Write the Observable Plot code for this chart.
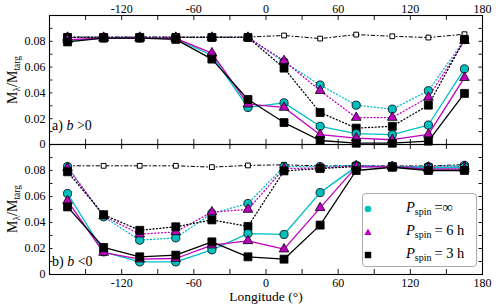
<!DOCTYPE html>
<html><head><meta charset="utf-8">
<script src="https://cdn.jsdelivr.net/npm/d3@7"></script>
<script src="https://cdn.jsdelivr.net/npm/@observablehq/plot@0.6"></script>
<style>
body{margin:0;background:#fff;overflow:hidden}
#wrap{position:relative;width:498px;height:308px;font-family:"Liberation Serif","DejaVu Serif",serif;color:#000}
#wrap svg{position:absolute;left:0;overflow:visible;background:none}
#wrap svg text{font-family:"Liberation Serif","DejaVu Serif",serif}
.ov{position:absolute;white-space:nowrap;line-height:1}
.ylab{font-size:14px;transform:translate(-50%,-50%) rotate(-90deg)}
.ylab sub{font-size:9.5px;vertical-align:-3px}
.plab{font-size:14px;transform:translateY(-50%)}
#legend{position:absolute;left:362px;top:193px;width:115px;height:74px;border:1px solid #aaa;border-radius:4px;background:#fff;box-sizing:border-box}
.lrow{position:absolute;left:0;width:100%;height:20px}
.lrow svg{position:absolute;left:13px;top:6px}
.ltxt{position:absolute;left:43px;top:1px;font-size:14.5px;white-space:nowrap}
.ltxt sub{font-size:10px;vertical-align:-3px}
</style></head><body><div id="wrap"></div>
<script>
// ---- data ----
const longitudes = [-165, -135, -105, -75, -45, -15, 15, 45, 75, 105, 135, 165];
const xTicks = [-180, -150, -120, -90, -60, -30, 0, 30, 60, 90, 120, 150, 180];
const xTickLabels = [-120, -60, 0, 60, 120, 180];
const yTicks = [0, 0.01, 0.02, 0.03, 0.04, 0.05, 0.06, 0.07, 0.08, 0.09, 0.1];
const yTickLabels = [0, 0.02, 0.04, 0.06, 0.08];

// panel a) b>0
const topRef     = [0.0833, 0.0833, 0.0833, 0.0833, 0.0833, 0.0833, 0.0845, 0.0821, 0.0852, 0.0839, 0.0829, 0.0855];
const topDotInf  = [0.0830, 0.0830, 0.0830, 0.0830, 0.0830, 0.0830, 0.0640, 0.0461, 0.0305, 0.0274, 0.0417, 0.0813];
const topDot6h   = [0.0830, 0.0830, 0.0830, 0.0830, 0.0830, 0.0830, 0.0649, 0.0417, 0.0209, 0.0209, 0.0365, 0.0805];
const topDot3h   = [0.0830, 0.0830, 0.0830, 0.0830, 0.0830, 0.0830, 0.0592, 0.0248, 0.0127, 0.0141, 0.0305, 0.0815];
const topSolInf  = [0.0805, 0.0825, 0.0825, 0.0820, 0.0690, 0.0287, 0.0323, 0.0141, 0.0084, 0.0076, 0.0151, 0.0586];
const topSol6h   = [0.0812, 0.0825, 0.0825, 0.0822, 0.0709, 0.0313, 0.0287, 0.0076, 0.0050, 0.0037, 0.0078, 0.0518];
const topSol3h   = [0.0795, 0.0825, 0.0825, 0.0815, 0.0662, 0.0349, 0.0170, 0.0031, 0.0010, 0.0010, 0.0026, 0.0396];

// panel b) b<0
const botRef     = [0.0836, 0.0836, 0.0836, 0.0836, 0.0826, 0.0839, 0.0844, 0.0835, 0.0838, 0.0835, 0.0835, 0.0845];
const botDotInf  = [0.0830, 0.0444, 0.0264, 0.0282, 0.0470, 0.0546, 0.0830, 0.0830, 0.0840, 0.0830, 0.0830, 0.0840];
const botDot6h   = [0.0820, 0.0450, 0.0310, 0.0328, 0.0480, 0.0500, 0.0815, 0.0820, 0.0835, 0.0830, 0.0825, 0.0830];
const botDot3h   = [0.0790, 0.0460, 0.0340, 0.0367, 0.0420, 0.0370, 0.0797, 0.0815, 0.0830, 0.0830, 0.0820, 0.0820];
const botSolInf  = [0.0623, 0.0174, 0.0097, 0.0097, 0.0190, 0.0315, 0.0308, 0.0630, 0.0830, 0.0830, 0.0820, 0.0825];
const botSol6h   = [0.0567, 0.0169, 0.0118, 0.0123, 0.0226, 0.0259, 0.0195, 0.0513, 0.0828, 0.0830, 0.0810, 0.0810];
const botSol3h   = [0.0520, 0.0208, 0.0136, 0.0149, 0.0251, 0.0136, 0.0118, 0.0380, 0.0800, 0.0825, 0.0800, 0.0800];

const seriesNames = ["P_spin=∞", "P_spin=6 h", "P_spin=3 h"];
const colors = ["#00BFBF", "#BF00BF", "#000000"];
const symbols = ["circle", "triangle", "square"];
const radii = [4.1, 3.6, 4.5];

const rows = vals => longitudes.map((lon, i) => ({lon, v: vals[i]}));

function panel({ref, dots, sols, height, marginTop, marginBottom, axisTop, axisBottom}) {
  const H = height - marginTop - marginBottom;
  const W = 498 - 49 - 16;
  const marks = [
    Plot.tickX(xTicks, {x: d => d, stroke: "#000", strokeWidth: 0.9, insetBottom: H - 5}),
    Plot.tickX(xTicks, {x: d => d, stroke: "#000", strokeWidth: 0.9, insetTop: H - 5}),
    Plot.tickY(yTicks, {y: d => d, stroke: "#000", strokeWidth: 0.9, insetRight: W - 3.5}),
    Plot.tickY(yTicks, {y: d => d, stroke: "#000", strokeWidth: 0.9, insetLeft: W - 3.5}),
    Plot.axisY({ticks: yTickLabels, tickSize: 0, tickPadding: 4, tickFormat: d => d === 0 ? "0" : d.toFixed(2), label: null}),
    // reference: dash-dot with open squares
    Plot.line(rows(ref), {x: "lon", y: "v", stroke: "#000", strokeWidth: 1, strokeDasharray: "3.5,2.5,1,2.5"}),
    Plot.dot(rows(ref), {x: "lon", y: "v", symbol: "square", r: 2.7, fill: "#fff", stroke: "#000", strokeWidth: 1})
  ];
  dots.forEach((vals, k) => {
    marks.push(Plot.line(rows(vals), {x: "lon", y: "v", stroke: colors[k], strokeWidth: 1.3, strokeDasharray: "1,2.4"}));
    marks.push(Plot.dot(rows(vals), {x: "lon", y: "v", symbol: symbols[k], r: radii[k], fill: colors[k], stroke: "#000", strokeWidth: 0.8}));
  });
  sols.forEach((vals, k) => {
    marks.push(Plot.line(rows(vals), {x: "lon", y: "v", stroke: colors[k], strokeWidth: 1.3}));
    marks.push(Plot.dot(rows(vals), {x: "lon", y: "v", symbol: symbols[k], r: radii[k], fill: colors[k], stroke: "#000", strokeWidth: 0.8}));
  });
  if (axisTop) marks.push(Plot.axisX({anchor: "top", ticks: xTickLabels, tickSize: 0, tickPadding: 3, tickFormat: d => String(d), label: null}));
  if (axisBottom) marks.push(Plot.axisX({anchor: "bottom", ticks: xTickLabels, tickSize: 0, tickPadding: 4, tickFormat: d => String(d), label: null}));
  marks.push(Plot.frame({stroke: "#000", strokeWidth: 1.1}));
  return Plot.plot({
    width: 498, height, marginLeft: 49, marginRight: 16, marginTop, marginBottom,
    x: {domain: [-180, 180]},
    y: {domain: [0, 0.1]},
    style: {fontFamily: "'Liberation Serif', 'DejaVu Serif', serif", fontSize: "12px", color: "#000", background: "none", overflow: "visible"},
    marks
  });
}

const wrap = document.getElementById("wrap");
const topPanel = panel({ref: topRef, dots: [topDotInf, topDot6h, topDot3h], sols: [topSolInf, topSol6h, topSol3h],
  height: 145, marginTop: 15, marginBottom: 1, axisTop: true, axisBottom: false});
topPanel.style.top = "0px";
const botPanel = panel({ref: botRef, dots: [botDotInf, botDot6h, botDot3h], sols: [botSolInf, botSol6h, botSol3h],
  height: 165, marginTop: 1, marginBottom: 34, axisTop: false, axisBottom: true});
botPanel.style.top = "143px";
wrap.appendChild(topPanel);
wrap.appendChild(botPanel);

function ov(html, cls, css) {
  const d = document.createElement("div");
  d.className = "ov " + cls;
  d.innerHTML = html;
  Object.assign(d.style, css);
  wrap.appendChild(d);
  return d;
}
ov("M<sub>λ</sub>/M<sub>targ</sub>", "ylab", {left: "14px", top: "80px"});
ov("M<sub>λ</sub>/M<sub>targ</sub>", "ylab", {left: "14px", top: "209px"});
ov("a) <i>b</i> &gt;0", "plab", {left: "52px", top: "126px"});
ov("b) <i>b</i> &lt;0", "plab", {left: "52px", top: "262px"});
ov("Longitude (°)", "", {left: "266px", top: "297px", fontSize: "13.5px", transform: "translate(-50%,-50%)"});

// legend
const legend = document.createElement("div");
legend.id = "legend";
const legendTexts = ["<i>P</i><sub>spin</sub>&thinsp;=∞", "<i>P</i><sub>spin</sub>&thinsp;= 6 h", "<i>P</i><sub>spin</sub>&thinsp;= 3 h"];
const shapes = [
  '<circle cx="5" cy="5" r="3.3" fill="' + colors[0] + '"/>',
  '<path d="M5,1.5 L8.6,8 L1.4,8 Z" fill="' + colors[1] + '"/>',
  '<rect x="1.8" y="1.8" width="6.4" height="6.4" fill="' + colors[2] + '"/>'
];
seriesNames.forEach((name, k) => {
  const r = document.createElement("div");
  r.className = "lrow";
  r.style.top = (4 + k * 23) + "px";
  r.innerHTML = '<svg width="10" height="10" style="position:absolute">' + shapes[k] + '</svg><span class="ltxt">' + legendTexts[k] + '</span>';
  legend.appendChild(r);
});
wrap.appendChild(legend);
</script>
</body></html>
